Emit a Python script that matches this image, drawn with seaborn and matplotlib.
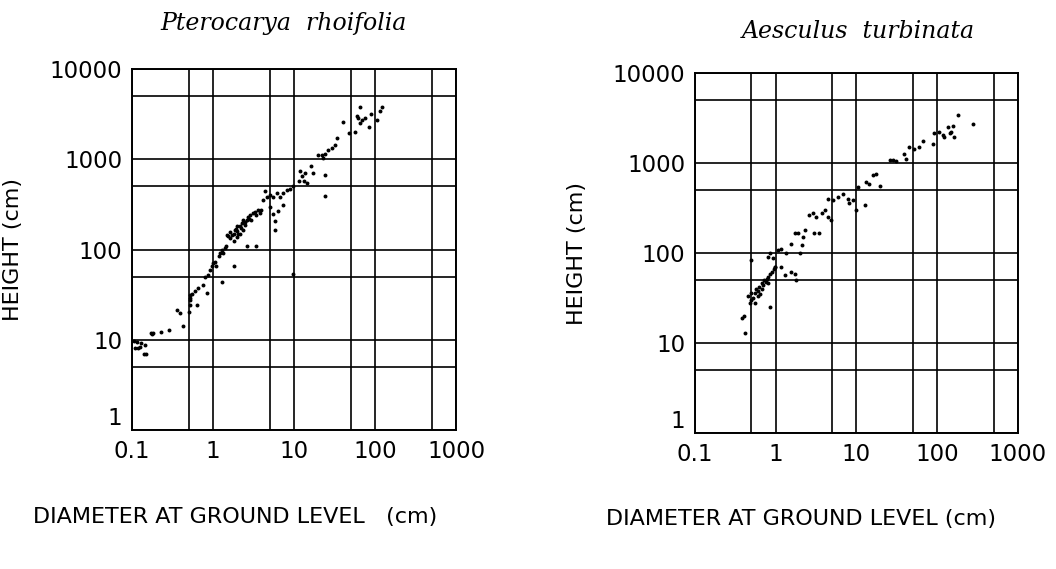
import pandas as pd
import seaborn as sns
from matplotlib import pyplot as plt
from matplotlib.ticker import FixedLocator, FixedFormatter, NullFormatter


# Pterocarya rhoifolia: diameter at ground level (cm) vs height (cm)
ptero_diam = [0.105, 0.11, 0.115, 0.12, 0.125, 0.13, 0.14, 0.145, 0.15,
              0.17, 0.175, 0.18, 0.23, 0.29, 0.36, 0.39, 0.42,
              0.5, 0.52, 0.52, 0.52, 0.52, 0.55, 0.6, 0.64, 0.66,
              0.76, 0.8, 0.84, 0.87, 0.92, 0.96, 1.0, 1.05, 1.1,
              1.17, 1.22, 1.28, 1.28, 1.34, 1.4, 1.45, 1.8,
              1.47, 1.55, 1.6, 1.6, 1.7, 1.8, 1.8, 1.86, 1.9, 1.95, 1.95, 2.0,
              2.05, 2.15, 2.15, 2.2, 2.25, 2.35, 2.35, 2.45, 2.5, 2.6, 2.7,
              2.8, 2.85, 2.97, 3.1, 3.3, 3.4, 3.6, 3.8, 3.96, 2.6, 3.4,
              4.18, 4.4, 4.6, 5.1, 5.1, 5.5, 5.5, 5.8, 5.8, 6.1, 6.3, 6.7,
              7.3, 7.3, 8.1, 8.9, 9.6, 9.8,
              11.4, 11.8, 12.4, 13.3, 13.6, 14.3, 16.2, 17.3, 19.9, 21.8,
              23.0, 24.0, 24.0, 24.0, 26.5, 29.0, 32.0, 33.5,
              40.0, 47.0, 56.0, 59.0, 62.0, 65.0, 65.0, 68.0, 75.0, 85.0,
              90.0, 105.0, 115.0, 120.0]
ptero_height = [9.8, 8.2, 9.5, 8.0, 8.3, 9.3, 7.0, 8.8, 7.0,
                11.8, 11.5, 12.0, 12.2, 12.8, 21.5, 19.6, 14.2,
                20.5, 24.3, 27.5, 31.0, 29.0, 32.0, 35.0, 24.3, 37.0,
                40.0, 50.0, 33.0, 52.0, 59.0, 65.0, 70.0, 73.0, 65.0,
                84.0, 91.0, 98.0, 44.0, 91.0, 103.0, 108.0, 65.0,
                145.0, 140.0, 133.0, 158.0, 145.0, 150.0, 124.0, 165.0, 170.0, 180.0, 136.0, 160.0,
                150.0, 180.0, 150.0, 175.0, 195.0, 213.0, 165.0, 187.0, 200.0, 213.0, 230.0,
                220.0, 240.0, 213.0, 252.0, 263.0, 240.0, 275.0, 252.0, 275.0, 108.0, 110.0,
                353.0, 440.0, 385.0, 400.0, 299.0, 385.0, 250.0, 205.0, 165.0, 420.0, 270.0, 385.0,
                420.0, 310.0, 460.0, 470.0, 54.0, 500.0,
                570.0, 735.0, 650.0, 570.0, 700.0, 545.0, 850.0, 700.0, 1110.0, 1110.0,
                1020.0, 1150.0, 670.0, 390.0, 1260.0, 1320.0, 1450.0, 1700.0,
                2600.0, 1950.0, 2000.0, 3050.0, 2850.0, 2500.0, 3800.0, 2700.0, 2850.0, 2300.0,
                3200.0, 2700.0, 3400.0, 3750.0]

# Aesculus turbinata
aesc_diam = [0.38, 0.41, 0.42, 0.5, 0.85,
             0.46, 0.48, 0.5, 0.5, 0.52, 0.55, 0.55, 0.57, 0.6, 0.6, 0.62, 0.64,
             0.67, 0.67, 0.7, 0.72, 0.75, 0.78, 0.81, 0.81, 0.85, 0.9, 0.95, 0.98,
             0.8, 0.86, 0.93, 1.07, 1.18, 1.36,
             0.98, 1.18, 1.3, 1.57, 1.73, 1.8,
             1.57, 1.73, 1.9, 2.0, 2.1, 2.2, 2.3,
             2.6, 2.9, 3.2, 3.4, 3.0, 3.7, 4.1, 4.5, 4.9, 4.5, 5.1,
             5.9, 6.8, 7.9, 8.2, 9.1, 10.0, 10.5, 12.6,
             13.3, 14.5, 16.0, 17.7, 19.4,
             26.0, 28.5, 31.0, 39.0, 41.0, 45.0, 52.0, 60.0, 67.0,
             88.0, 91.0, 106.0, 117.0, 123.0, 135.0, 142.0, 148.0, 155.0, 163.0,
             180.0, 275.0]
aesc_height = [19.0, 20.0, 13.0, 83.0, 25.0,
               33.0, 27.5, 30.0, 36.0, 32.0, 36.0, 28.0, 40.0, 33.0, 38.0, 42.0, 35.0,
               46.0, 40.0, 44.0, 50.0, 48.0, 52.0, 54.0, 46.0, 58.0, 62.0, 66.0, 70.0,
               91.0, 99.0, 87.0, 108.0, 112.0, 99.0,
               70.0, 70.0, 57.0, 62.0, 59.0, 50.0,
               127.0, 165.0, 165.0, 99.0, 123.0, 151.0, 179.0,
               262.0, 275.0, 252.0, 165.0, 165.0, 275.0, 300.0, 252.0, 232.0, 400.0, 385.0,
               420.0, 457.0, 400.0, 355.0, 385.0, 300.0, 540.0, 340.0,
               620.0, 590.0, 730.0, 760.0, 560.0,
               1070.0, 1070.0, 1040.0, 1270.0, 1110.0, 1500.0, 1440.0, 1500.0, 1760.0,
               1630.0, 2150.0, 2200.0, 2040.0, 1950.0, 2500.0, 2150.0, 2200.0, 2600.0, 1950.0,
               3400.0, 2700.0]

x_major = [0.1, 1, 10, 100, 1000]
x_labels = ['0.1', '1', '10', '100', '1000']
x_grid = [0.5, 5, 50, 500]
y_major = [1, 10, 100, 1000, 10000]
y_labels = ['1', '10', '100', '1000', '10000']
y_grid = [5, 50, 500, 5000]

panels = [
    ('Pterocarya  rhoifolia', ptero_diam, ptero_height, 'DIAMETER AT GROUND LEVEL   (cm)'),
    ('Aesculus  turbinata', aesc_diam, aesc_height, 'DIAMETER AT GROUND LEVEL (cm)'),
]

sns.set_style("white")
plt.rcParams['font.family'] = ['DejaVu Sans']

fig = plt.figure(figsize=(10.56, 5.69), dpi=100)
ax_left = fig.add_axes([0.125, 0.2443, 0.307, 0.6344])
ax_right = fig.add_axes([0.658, 0.239, 0.306, 0.6327])

for ax, (title, diam, height, xlab), title_x, title_pad, xlab_x in zip(
        [ax_left, ax_right], panels, [0.466, 0.505], [28, 25], [0.318, 0.328]):
    df = pd.DataFrame({'diameter': diam, 'height': height})
    sns.scatterplot(data=df, x='diameter', y='height', ax=ax, color='black',
                    s=8, linewidth=0, legend=False)
    ax.set_xscale('log')
    ax.set_yscale('log')
    ax.set_xlim(0.1, 1000)
    ax.set_ylim(1, 10000)

    ax.xaxis.set_major_locator(FixedLocator(x_major))
    ax.xaxis.set_major_formatter(FixedFormatter(x_labels))
    ax.xaxis.set_minor_locator(FixedLocator(x_grid))
    ax.xaxis.set_minor_formatter(NullFormatter())
    ax.yaxis.set_major_locator(FixedLocator(y_major))
    ax.yaxis.set_major_formatter(FixedFormatter(y_labels))
    ax.yaxis.set_minor_locator(FixedLocator(y_grid))
    ax.yaxis.set_minor_formatter(NullFormatter())

    ax.grid(which='both', color='black', linewidth=1.2)
    ax.tick_params(which='both', length=0, labelsize=16.5, colors='black')
    ax.tick_params(axis='x', pad=7)
    ax.tick_params(axis='y', pad=7)
    # the bottom "1" sits a little above the corner, as in the original
    ax.get_yticklabels()[0].set_va('bottom')
    for sp in ax.spines.values():
        sp.set_color('black')
        sp.set_linewidth(1.4)

    ax.set_title(title, x=title_x, pad=title_pad, fontsize=17, fontstyle='italic',
                 family='DejaVu Serif', color='black')
    ax.set_xlabel(xlab, fontsize=16, color='black')
    ax.set_ylabel('HEIGHT (cm)', fontsize=16, color='black')
    ax.xaxis.label.set_va('center')
    ax.xaxis.set_label_coords(xlab_x, -0.24)
    ax.yaxis.set_label_coords(-0.335, 0.5)

fig.savefig('out.png', dpi=100)
